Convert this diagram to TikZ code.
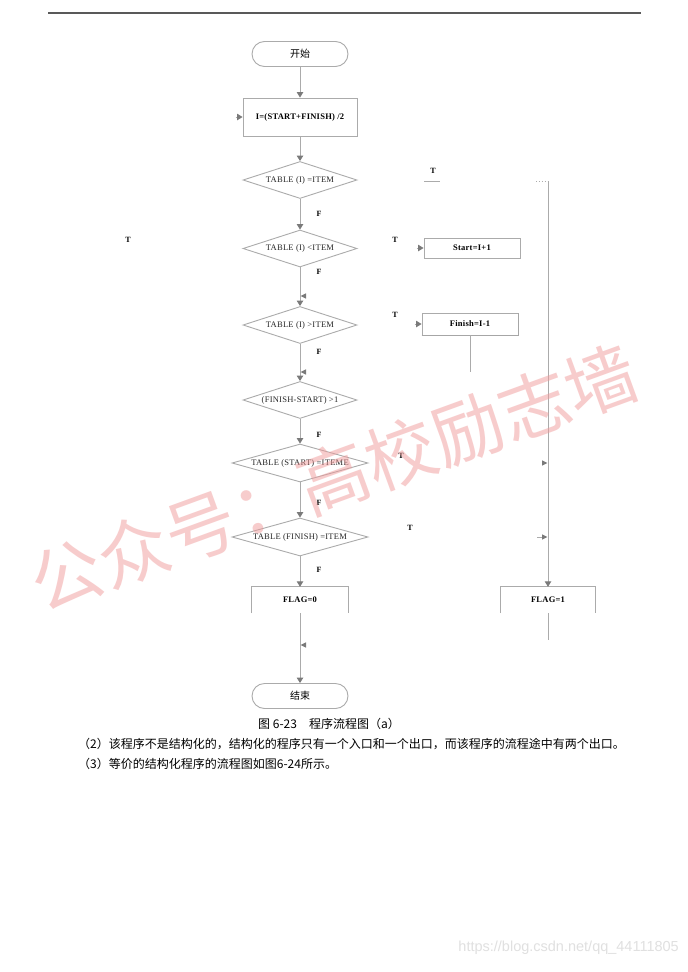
\documentclass[tikz,border=0pt]{standalone}
\usepackage{fontspec}
\setmainfont{Liberation Serif}
\newfontfamily\cjk{Noto Sans CJK SC}
\newfontfamily\urlfont{Liberation Sans}
\newfontfamily\labfont[LetterSpace=3]{Liberation Serif}
\usetikzlibrary{shapes.geometric,arrows.meta}
\definecolor{lncol}{HTML}{ABABAB}
\definecolor{tipcol}{HTML}{7A7A7A}
\definecolor{wmcol}{HTML}{F09A9A}
\begin{document}
\begin{tikzpicture}[x=1pt,y=-1pt,
  ln/.style={draw=lncol,line width=0.9pt},
  arr/.style={ln,-{Triangle[width=6.5pt,length=5.5pt,color=tipcol,fill=tipcol]}},
  term/.style={rectangle,rounded corners=12.5pt,draw=lncol,line width=0.9pt,minimum width=96pt,minimum height=25pt,inner sep=0pt,font=\cjk\fontsize{10}{11}\selectfont},
  dia/.style={diamond,draw=lncol,line width=0.9pt,shape aspect=3.5,inner sep=0pt,minimum width=114pt,minimum height=37pt,font=\labfont\fontsize{8.5}{9}\selectfont,text=black!85},
  pbox/.style={rectangle,draw=lncol,line width=0.9pt,inner sep=0pt,font=\labfont\bfseries\fontsize{8.5}{9}\selectfont},
  obox/.style={rectangle,inner sep=0pt,minimum width=96pt,minimum height=26pt,font=\labfont\bfseries\fontsize{8.5}{9}\selectfont},
  lab/.style={font=\bfseries\fontsize{8}{8}\selectfont},
  tipmark/.style={fill=tipcol}
]
\fill[white] (0,0) rectangle (688,972);
\useasboundingbox (0,0) rectangle (688,972);

% top rule
\draw[draw=black!65,line width=1.3pt] (48,13) -- (641,13);

% main column
\node[term] (st) at (300,54) {开始};
\node[pbox,minimum width=114pt,minimum height=38pt] (ia) at (300,117) {I=(START+FINISH) /2};
\node[dia] (d1) at (300,180) {TABLE (I) =ITEM};
\node[dia] (d2) at (300,248.5) {TABLE (I) <ITEM};
\node[dia] (d3) at (300,325) {TABLE (I) >ITEM};
\node[dia] (d4) at (300,400) {(FINISH-START) >1};
\node[dia,minimum width=136pt,minimum height=38pt] (d5) at (300,463) {TABLE (START) =ITEME};
\node[dia,minimum width=136pt,minimum height=38pt] (d6) at (300,537) {TABLE (FINISH) =ITEM};
\node[obox] (f0) at (300,600) {FLAG=0};
\node[term] (en) at (300,696) {结束};

% right column
\node[pbox,minimum width=96pt,minimum height=20pt] (s1) at (472,248) {Start=I+1};
\node[pbox,minimum width=96pt,minimum height=22pt] (s2) at (470,324) {Finish=I-1};
\node[obox,minimum width=95pt] (f1) at (548,600) {FLAG=1};

% open boxes (top and sides)
\draw[ln] (f0.south west) -- (f0.north west) -- (f0.north east) -- (f0.south east);
\draw[ln] (f1.south west) -- (f1.north west) -- (f1.north east) -- (f1.south east);
\draw[draw=black!35,line width=1.2pt] (s2.south west) -- (s2.south east) -- (s2.north east);

% main connectors
\draw[arr] (st) -- (ia);
\draw[arr] (ia) -- (d1);
\draw[arr] (d1) -- (d2);
\draw[arr] (d2) -- (d3);
\draw[arr] (d3) -- (d4);
\draw[arr] (d4) -- (d5);
\draw[arr] (d5) -- (d6);
\draw[arr] (d6) -- (f0.north);
\draw[arr] (f0.south) -- (en.north);

% small side marks on the main line
\fill[tipmark] (300.6,296) -- (306,293.3) -- (306,298.7) -- cycle;
\fill[tipmark] (300.6,372) -- (306,369.3) -- (306,374.7) -- cycle;
\fill[tipmark] (300.6,645) -- (306,642.3) -- (306,647.7) -- cycle;

% right vertical line
\coordinate (rt) at (548,181);
\coordinate (rb) at (548,640);
\draw[ln] (424,181) -- (440,181);
\draw[ln,dotted] (536,181) -- (rt);
\draw[arr] (rt) -- (f1.north);
\draw[ln] (f1.south) -- (rb);
\coordinate (s2b) at (470,372);
\draw[ln] (s2.south) -- (s2b);

% entry arrowheads
\draw[arr] ([xshift=-7pt]ia.west) -- (ia.west);
\draw[arr] ([xshift=-7pt]s1.west) -- (s1.west);
\draw[arr] ([xshift=-7pt]s2.west) -- (s2.west);
\fill[tipmark] (547.4,463) -- (542,460.3) -- (542,465.7) -- cycle;
\draw[ln] (537,537) -- (542,537);
\fill[tipmark] (547.4,537) -- (542,534.3) -- (542,539.7) -- cycle;

% F / T labels
\foreach \yy in {214,272,352,435,503,570} \node[lab] at (319,\yy) {F};
\node[lab] at (433,171) {T};
\node[lab] at (128,240) {T};
\node[lab] at (395,240) {T};
\node[lab] at (395,315) {T};
\node[lab] at (401,456) {T};
\node[lab] at (410,528) {T};

% caption and text
\node[font=\cjk\fontsize{12}{14}\selectfont] (cap) at (329,724) {图 6-23\quad 程序流程图（a）};
\node[anchor=west,inner sep=0pt,font=\cjk\fontsize{12}{14}\selectfont] (p2) at (78,744) {（2）该程序不是结构化的，结构化的程序只有一个入口和一个出口，而该程序的流程途中有两个出口。};
\node[anchor=west,inner sep=0pt,font=\cjk\fontsize{12}{14}\selectfont] (p3) at (78,764) {（3）等价的结构化程序的流程图如图6-24所示。};

% watermark
\node[rotate=20,text=wmcol,opacity=0.5,font=\cjk\fontsize{71}{71}\selectfont] (wm) at (334,478) {公众号：高校励志墙};

% url
\node[anchor=east,inner sep=0pt,text=black!12,font=\urlfont\fontsize{14.5}{15}\selectfont] (url) at (679,948) {https://blog.csdn.net/qq\_44111805};
\end{tikzpicture}
\end{document}
